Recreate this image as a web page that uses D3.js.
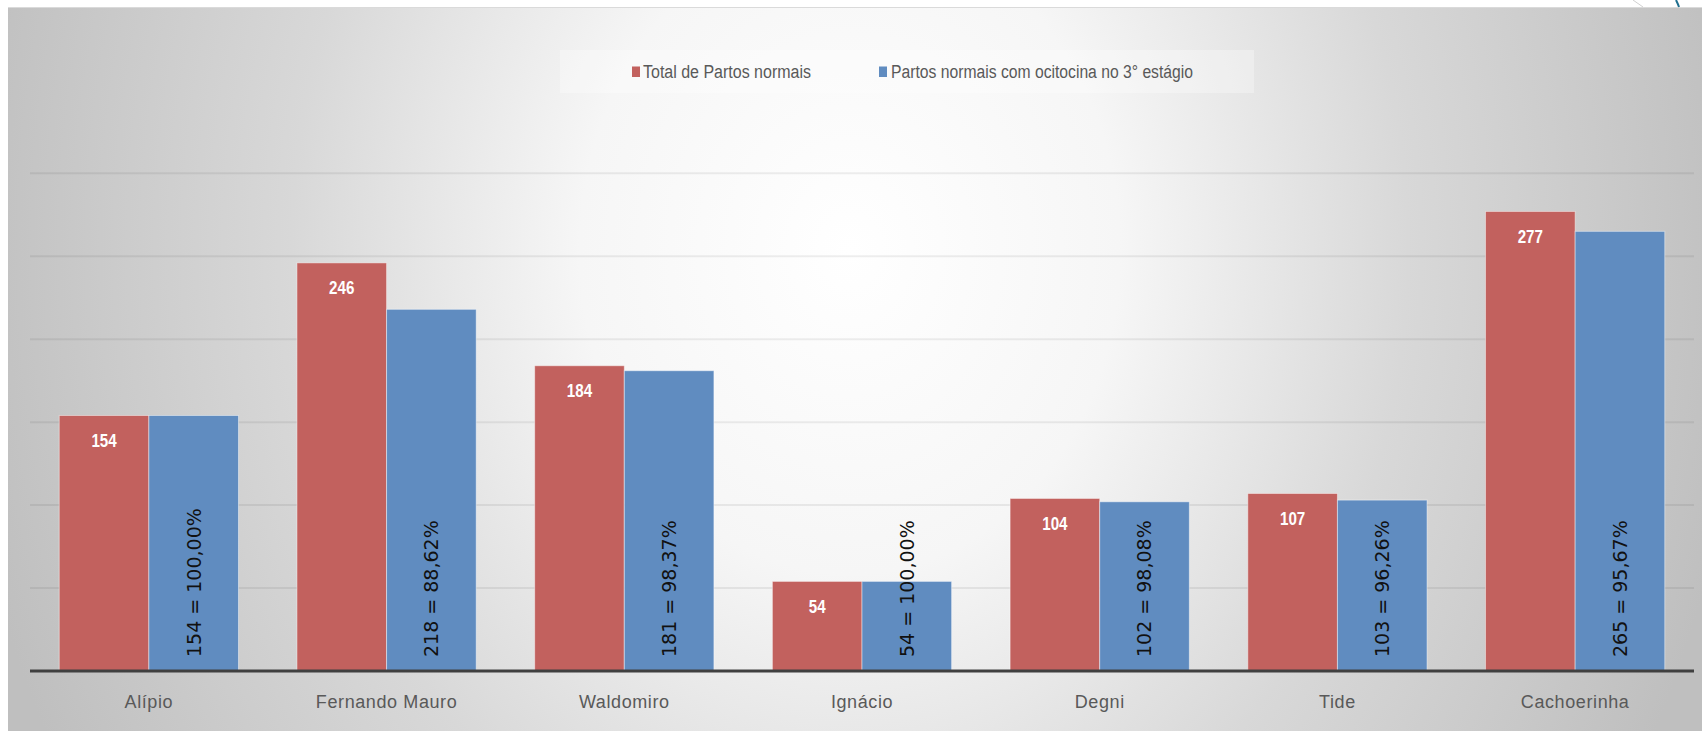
<!DOCTYPE html>
<html>
<head>
<meta charset="utf-8">
<script src="https://cdn.jsdelivr.net/npm/d3@7"></script>
<style>
  html, body { margin: 0; padding: 0; background: #ffffff; }
  svg { display: block; }
</style>
</head>
<body>
<svg id="chart" width="1702" height="731"></svg>
<script>
// Data
var categories = ["Alípio", "Fernando Mauro", "Waldomiro", "Ignácio", "Degni", "Tide", "Cachoerinha"];
var totalPartos = [154, 246, 184, 54, 104, 107, 277];
var partosOcitocina = [154, 218, 181, 54, 102, 103, 265];
var percentLabels = ["100,00%", "88,62%", "98,37%", "100,00%", "98,08%", "96,26%", "95,67%"];
var seriesNames = ["Total de Partos normais", "Partos normais com ocitocina no 3° estágio"];
var yTicks = [50, 100, 150, 200, 250, 300];

// Colours
var redColour = '#c2615e';
var blueColour = '#608cc0';
var gridColour = 'rgba(0,0,0,0.065)';
var axisColour = '#404040';
var labelColour = '#595959';

var width = 1702, height = 731;
var plotLeft = 30, plotRight = 1694, plotTop = 173.3, plotBottom = 671;
var narrowFont = "'Liberation Sans Narrow', 'Liberation Sans', sans-serif";

var svg = d3.select("#chart");

// Background gradient (slide style)
var defs = svg.append("defs");
var grad = defs.append("radialGradient")
  .attr("id", "bg")
  .attr("gradientUnits", "userSpaceOnUse")
  .attr("cx", 850).attr("cy", 250).attr("r", 900)
  .attr("gradientTransform", "translate(850,250) scale(1,1.2) translate(-850,-250)");
grad.append("stop").attr("offset", "0").attr("stop-color", "#ffffff");
grad.append("stop").attr("offset", "0.3").attr("stop-color", "#f6f6f6");
grad.append("stop").attr("offset", "0.62").attr("stop-color", "#d8d8d8");
grad.append("stop").attr("offset", "1").attr("stop-color", "#bfbfbf");

svg.append("rect")
  .attr("x", 8).attr("y", 7)
  .attr("width", width - 8).attr("height", height - 7)
  .attr("fill", "url(#bg)");
svg.append("line")
  .attr("x1", 8).attr("x2", width).attr("y1", 7.5).attr("y2", 7.5)
  .attr("stroke", "#dadada").attr("stroke-width", 1);

// little slide decoration at the top right
svg.append("line")
  .attr("x1", 1633).attr("y1", 0).attr("x2", 1643).attr("y2", 7)
  .attr("stroke", "#d0d0d0").attr("stroke-width", 1);
svg.append("path")
  .attr("d", "M1676,0 Q1678,4 1679,7")
  .attr("fill", "none").attr("stroke", "#1f6f8f").attr("stroke-width", 2);

// Scales
var x0 = d3.scaleBand()
  .domain(categories)
  .range([plotLeft, plotRight])
  .paddingInner(0.246)
  .paddingOuter(0.123);

var x1 = d3.scaleBand()
  .domain([0, 1])
  .range([0, x0.bandwidth()]);

var y = d3.scaleLinear()
  .domain([0, 300])
  .range([plotBottom, plotTop]);

// Gridlines
svg.append("g").selectAll("line")
  .data(yTicks)
  .enter().append("line")
  .attr("x1", plotLeft).attr("x2", plotRight)
  .attr("y1", function (d) { return y(d); })
  .attr("y2", function (d) { return y(d); })
  .attr("stroke", gridColour)
  .attr("stroke-width", 2);

// Legend
var legend = svg.append("g");
legend.append("rect")
  .attr("x", 560).attr("y", 50)
  .attr("width", 694).attr("height", 43)
  .attr("fill", "rgba(255,255,255,0.3)");

var legendItems = [
  { name: seriesNames[0], colour: redColour, sx: 632, tx: 643, tw: 168 },
  { name: seriesNames[1], colour: blueColour, sx: 879, tx: 891, tw: 302 }
];
legend.selectAll("rect.key")
  .data(legendItems)
  .enter().append("rect")
  .attr("class", "key")
  .attr("x", function (d) { return d.sx; })
  .attr("y", 66.5)
  .attr("width", 8).attr("height", 10.5)
  .attr("fill", function (d) { return d.colour; });
legend.selectAll("text")
  .data(legendItems)
  .enter().append("text")
  .attr("x", function (d) { return d.tx; })
  .attr("y", 77.5)
  .attr("font-family", narrowFont)
  .attr("font-size", 18)
  .attr("fill", labelColour)
  .attr("textLength", function (d) { return d.tw; })
  .attr("lengthAdjust", "spacingAndGlyphs")
  .text(function (d) { return d.name; });

// Bars
var groups = svg.append("g").selectAll("g")
  .data(categories)
  .enter().append("g")
  .attr("transform", function (d) { return "translate(" + x0(d) + ",0)"; });

groups.append("rect")
  .attr("x", x1(0))
  .attr("y", function (d, i) { return y(totalPartos[i]); })
  .attr("width", x1.bandwidth())
  .attr("height", function (d, i) { return y(0) - y(totalPartos[i]); })
  .attr("fill", redColour)
  .attr("stroke", "rgba(255,255,255,0.45)")
  .attr("stroke-width", 1);

groups.append("rect")
  .attr("x", x1(1))
  .attr("y", function (d, i) { return y(partosOcitocina[i]); })
  .attr("width", x1.bandwidth())
  .attr("height", function (d, i) { return y(0) - y(partosOcitocina[i]); })
  .attr("fill", blueColour)
  .attr("stroke", "rgba(255,255,255,0.45)")
  .attr("stroke-width", 1);

// Value labels on the red bars (squeezed a bit, like the condensed original)
groups.append("text")
  .attr("transform", function (d, i) {
    return "translate(" + (x1(0) + x1.bandwidth() / 2) + "," + (y(totalPartos[i]) + 31.5) + ") scale(0.82,1)";
  })
  .attr("text-anchor", "middle")
  .attr("font-family", narrowFont)
  .attr("font-weight", "bold")
  .attr("font-size", 18.5)
  .attr("fill", "#ffffff")
  .text(function (d, i) { return totalPartos[i]; });

// Rotated labels on the blue bars
groups.append("text")
  .attr("transform", function (d, i) {
    return "translate(" + (x1(1) + x1.bandwidth() / 2) + "," + (y(0) - 14) + ") rotate(-90)";
  })
  .attr("dy", "0.36em")
  .attr("font-family", "'DejaVu Sans', sans-serif")
  .attr("font-size", 19)
  .attr("fill", "#111111")
  .text(function (d, i) { return partosOcitocina[i] + " = " + percentLabels[i]; });

// Category axis
var xAxis = svg.append("g")
  .attr("transform", "translate(0," + plotBottom + ")")
  .call(d3.axisBottom(x0).tickSize(0).tickPadding(0));
xAxis.select(".domain")
  .attr("d", "M" + plotLeft + ",0H" + plotRight)
  .attr("stroke", axisColour)
  .attr("stroke-width", 3);
xAxis.selectAll(".tick text")
  .attr("y", 37)
  .attr("dy", 0)
  .attr("font-family", narrowFont)
  .attr("font-size", 18)
  .attr("letter-spacing", 0.6)
  .attr("fill", labelColour);
</script>
</body>
</html>
